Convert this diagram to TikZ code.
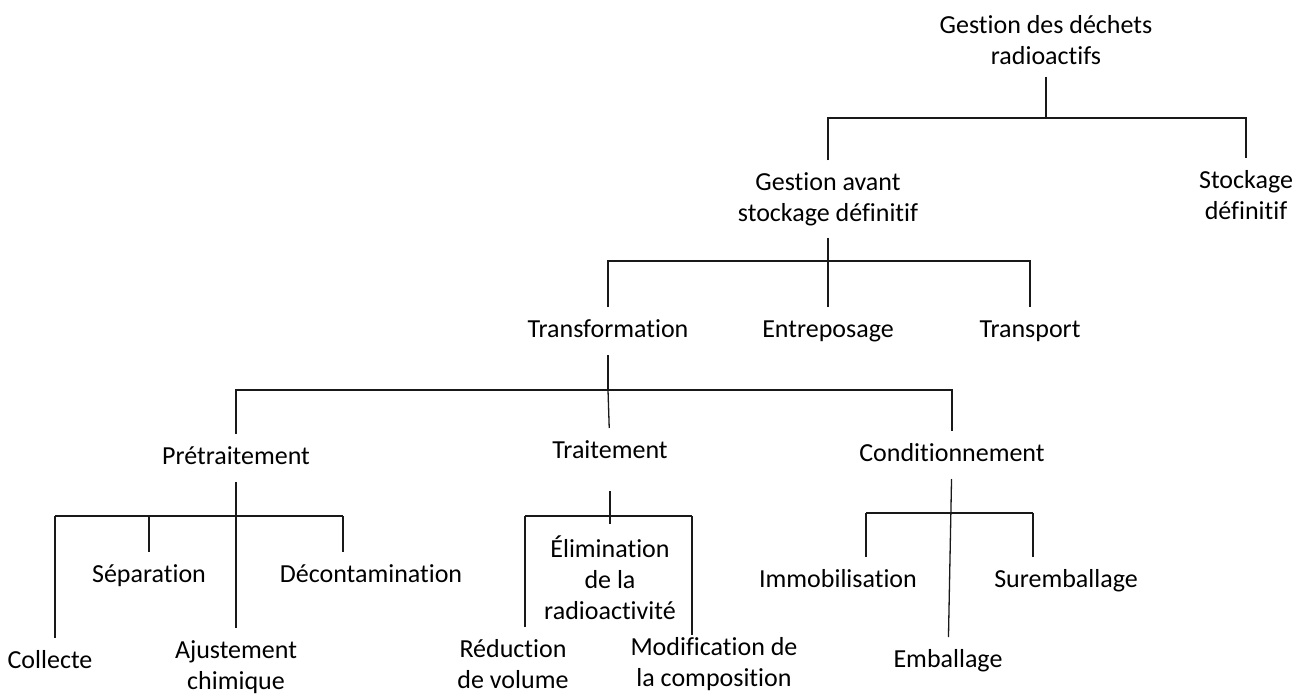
\documentclass[tikz,border=0pt]{standalone}
\usepackage{fontspec}
\setmainfont{Carlito}[Ligatures=NoCommon]

\begin{document}
\begin{tikzpicture}[x=1pt,y=-1pt,
  lbl/.style={align=center,inner sep=0pt,outer sep=12pt,
    font=\fontsize{26}{31}\selectfont},
  mot/.style={lbl,text height=18pt,text depth=6pt},
  trait/.style={line width=1.3pt,black!90}]

\useasboundingbox (0,0) rectangle (1303,695);

% -----------------------
% Niveaux du haut
% -----------------------
\node[lbl] (gestion) at (1046,40) {Gestion des déchets\\radioactifs};
\node[lbl] (avant) at (828,199) {Gestion avant\\stockage définitif};
\node[lbl] (stockdef) at (1246,195) {Stockage\\définitif};

\node[mot] (transfo) at (608,331) {Transformation};
\node[mot] (entrepos) at (828,331) {Entreposage};
\node[mot] (transport) at (1030,331) {Transport};

\node[mot] (pretrait) at (236,458) {Prétraitement};
\node[mot] (trait) at (610,452) {Traitement};
\node[mot] (condit) at (952,455) {Conditionnement};

% -----------------------
% Feuilles
% -----------------------
\node[mot] (separ) at (149,576) {Séparation};
\node[mot] (decont) at (371,576) {Décontamination};
\node[mot] (collecte) at (50,662) {Collecte};
\node[lbl] (ajust) at (236,667) {Ajustement\\chimique};

\node[lbl] (elim) at (610,578) {Élimination\\de la\\radioactivité};
\node[lbl] (reduc) at (513,664) {Réduction\\de volume};
\node[lbl] (modif) at (714,664) {Modification de\\la composition};

\node[mot] (immob) at (838,581) {Immobilisation};
\node[mot] (surem) at (1066,581) {Suremballage};
\node[mot] (emball) at (948,661) {Emballage};

% -----------------------
% Branches
% -----------------------
\coordinate (j1) at (1046,118);
\draw[trait] (gestion) -- (j1);
\draw[trait] (avant) |- (j1) -| (stockdef);

\coordinate (j2) at (828,261);
\draw[trait] (avant) -- (j2);
\draw[trait] (transfo) |- (j2) -| (transport);
\draw[trait] (entrepos) -- (j2);

\coordinate (j3) at (608,390);
\draw[trait] (transfo) -- (j3);
\draw[trait] (pretrait) |- (j3) -| (condit);
\draw[trait] (trait) -- (j3);

% pretraitement
\coordinate (j4l) at (55,516);
\coordinate (j4r) at (343,516);
\draw[trait] (pretrait) -- (ajust);
\draw[trait] (j4l) -- (j4r);
\draw[trait] (j4l) -- (j4l |- collecte.north);
\draw[trait] (separ) -- (separ |- j4l);
\draw[trait] (j4r) -- (j4r |- decont.north);

% traitement
\coordinate (j5l) at (525,516);
\coordinate (j5r) at (692,516);
\draw[trait,shorten <=15pt] (trait) -- (elim);
\draw[trait] (j5l) -- (j5r);
\draw[trait] (j5l) -- (j5l |- reduc.north);
\draw[trait,shorten >=-10pt] (j5r) -- (j5r |- modif.north);

% conditionnement
\coordinate (j6l) at (866,513);
\coordinate (j6r) at (1033,513);
\draw[trait] (condit) -- (emball);
\draw[trait] (j6l) -- (j6r);
\draw[trait] (j6l) -- (j6l |- immob.north);
\draw[trait] (j6r) -- (j6r |- surem.north);

\end{tikzpicture}
\end{document}
